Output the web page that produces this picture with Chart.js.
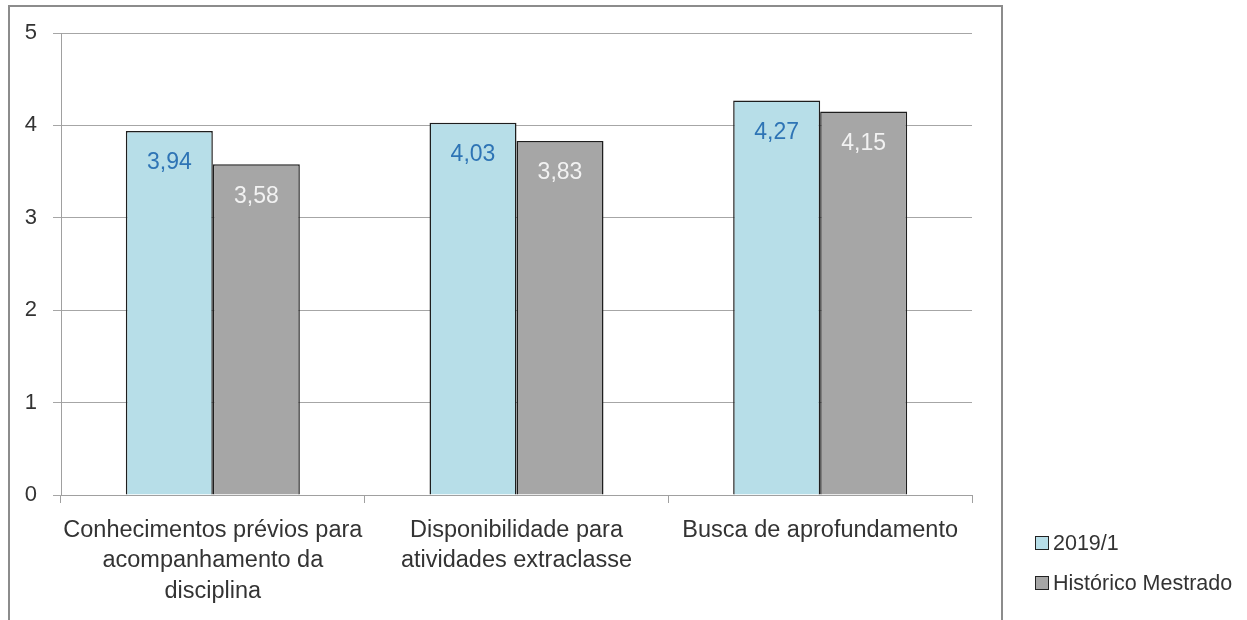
<!DOCTYPE html>
<html lang="pt">
<head>
<meta charset="utf-8">
<title>Avaliação 2019/1 x Histórico Mestrado</title>
<script src="https://cdn.jsdelivr.net/npm/chart.js@4"></script>
<style>
    html, body { margin: 0; padding: 0; background: #fff; }
    #wrap { position: relative; width: 1247px; height: 620px; overflow: hidden; }
    #frame {
        position: absolute; left: 8px; top: 5px; width: 995px; height: 640px;
        border: 2px solid #8c8c8c; box-sizing: border-box;
    }
    #chart-box { position: absolute; left: 0; top: 0; width: 1247px; height: 620px; }
    #legend {
        position: absolute; left: 1035px; top: 531px;
        font-family: "Liberation Sans", Arial, sans-serif; font-size: 21.5px; color: #333;
    }
    #legend .item { display: flex; align-items: center; height: 24px; margin-bottom: 16px; }
    #legend .swatch {
        width: 12px; height: 12px; border: 1.5px solid #222; margin-right: 4px;
    }
</style>
</head>
<body>
<div id="wrap">
    <div id="frame"></div>
    <div id="chart-box"><canvas id="grafico"></canvas></div>
    <div id="legend"></div>
</div>
<script>
/* ===== Dados ===== */
const categorias = [
    ['Conhecimentos prévios para', 'acompanhamento da', 'disciplina'],
    ['Disponibilidade para', 'atividades extraclasse'],
    ['Busca de aprofundamento']
];
const serieNomes = ['2019/1', 'Histórico Mestrado'];
const valores2019 = [3.94, 4.03, 4.27];
const valoresHistorico = [3.58, 3.83, 4.15];
const ticksY = [0, 1, 2, 3, 4, 5];

/* ===== Estilos ===== */
const corAzul = '#b7dee8';
const corCinza = '#a6a6a6';
const corRotulo = ['#2e74b5', '#f2f2f2'];
const fonte = '"Liberation Sans", Arial, sans-serif';

/* rótulos de valor dentro das barras */
const rotulosValor = {
    id: 'rotulosValor',
    afterDatasetsDraw(chart) {
        const ctx = chart.ctx;
        ctx.save();
        ctx.font = '23px ' + fonte;
        ctx.textAlign = 'center';
        ctx.textBaseline = 'middle';
        chart.data.datasets.forEach((ds, i) => {
            const meta = chart.getDatasetMeta(i);
            meta.data.forEach((bar, j) => {
                ctx.fillStyle = corRotulo[i];
                ctx.fillText(ds.data[j].toFixed(2).replace('.', ','), bar.x, bar.y + 32);
            });
        });
        ctx.restore();
    }
};

const chart = new Chart(document.getElementById('grafico'), {
    type: 'bar',
    data: {
        labels: categorias,
        datasets: [
            { label: serieNomes[0], data: valores2019, backgroundColor: corAzul,
              borderColor: '#1e1e1e', borderWidth: 1.5 },
            { label: serieNomes[1], data: valoresHistorico, backgroundColor: corCinza,
              borderColor: '#1e1e1e', borderWidth: 1.5 }
        ]
    },
    options: {
        responsive: true,
        maintainAspectRatio: false,
        animation: false,
        layout: { padding: { left: 8, top: 33, right: 275, bottom: 0 } },
        datasets: { bar: { categoryPercentage: 0.573, barPercentage: 1 } },
        plugins: { legend: { display: false }, tooltip: { enabled: false } },
        scales: {
            x: {
                grid: { display: true, drawOnChartArea: false, drawTicks: true, tickLength: 8,
                        offset: true, color: '#a0a0a0' },
                border: { display: true, color: '#a0a0a0', width: 1 },
                ticks: { color: '#333', padding: 12, maxRotation: 0, autoSkip: false,
                         font: { family: fonte, size: 23.5, lineHeight: 1.3 } },
                afterFit(scale) { scale.height = 125; }
            },
            y: {
                min: ticksY[0],
                max: ticksY[ticksY.length - 1],
                afterBuildTicks(scale) { scale.ticks = ticksY.map(v => ({ value: v })); },
                grid: { color: '#a6a6a6', tickLength: 8 },
                border: { display: true, color: '#a0a0a0', width: 1 },
                ticks: { color: '#333', padding: 16, font: { family: fonte, size: 22 } },
                afterFit(scale) { scale.width = 53; }
            }
        }
    },
    plugins: [rotulosValor]
});

/* legenda em HTML a partir dos datasets */
const legenda = document.getElementById('legend');
chart.data.datasets.forEach(ds => {
    const item = document.createElement('div');
    item.className = 'item';
    const sw = document.createElement('span');
    sw.className = 'swatch';
    sw.style.background = ds.backgroundColor;
    item.appendChild(sw);
    item.appendChild(document.createTextNode(ds.label));
    legenda.appendChild(item);
});
</script>
</body>
</html>
